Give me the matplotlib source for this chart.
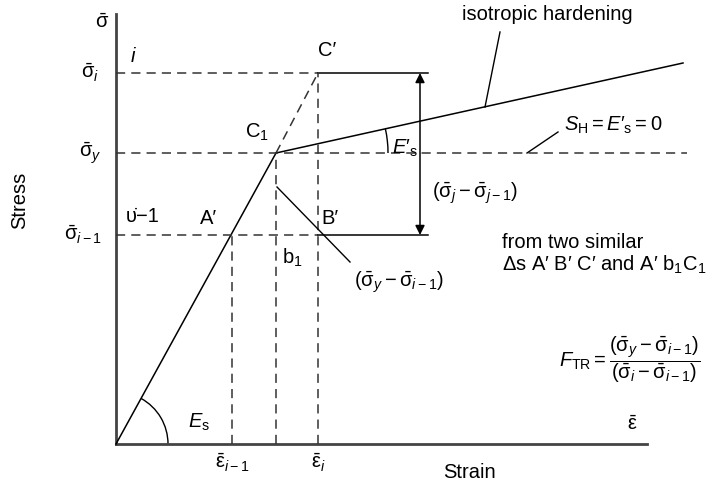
import numpy as np
import matplotlib.pyplot as plt
from matplotlib.patches import Arc

plt.rcParams['font.family'] = ['Liberation Sans', 'DejaVu Sans']
plt.rcParams['mathtext.fontset'] = 'custom'
plt.rcParams['mathtext.rm'] = 'Liberation Sans'
plt.rcParams['mathtext.it'] = 'Liberation Sans:italic'
plt.rcParams['mathtext.sf'] = 'Liberation Sans'

# schematic levels (arbitrary units, origin at axis corner)
eps_im1, eps_c1, eps_i = 116, 160, 202
sig_im1, sig_y, sig_i = 209, 291, 371
eps_max, sig_max = 531, 430
hard_end = (567, 381)          # end of isotropic hardening line
dash_end = 571                 # end of S_H = 0 dashed line
arrow_x, solid_end = 304, 312  # double arrow and solid level lines
b_line = [(161, 257), (234, 182)]
iso_leader = [(384, 412), (369, 337)]
sh_leader = [(442, 312), (411, 291)]

fig = plt.figure(figsize=(7.22, 4.92), dpi=100)
ax = fig.add_axes([0, 0, 1, 1])
ax.set_xlim(-116, 606)
ax.set_ylim(-48, 444)
ax.axis('off')

k = dict(color='black', lw=1.1)
d = dict(color='#333333', lw=1.1, dashes=(6, 4))

# axes
ax.plot([0, 0], [0, sig_max], color='#444444', lw=2)
ax.plot([0, eps_max], [0, 0], color='#444444', lw=2)

# elastic line and dashed continuation
ax.plot([0, eps_c1], [0, sig_y], **k)
ax.plot([eps_c1, eps_i], [sig_y, sig_i], **d)
# hardening
ax.plot([eps_c1, hard_end[0]], [sig_y, hard_end[1]], **k)

# horizontal levels
ax.plot([0, eps_i], [sig_i, sig_i], **d)
ax.plot([eps_i, solid_end], [sig_i, sig_i], **k)
ax.plot([0, dash_end], [sig_y, sig_y], **d)
ax.plot([0, eps_i], [sig_im1, sig_im1], **d)
ax.plot([eps_i, solid_end], [sig_im1, sig_im1], **k)

# vertical levels
ax.plot([eps_im1, eps_im1], [0, sig_im1], **d)
ax.plot([eps_c1, eps_c1], [0, sig_y], **d)
ax.plot([eps_i, eps_i], [0, sig_i], **d)

# leaders
for pts in (b_line, iso_leader, sh_leader):
    xs, ys = zip(*pts)
    ax.plot(xs, ys, color='black', lw=1)

ax.annotate('', xy=(arrow_x, sig_i), xytext=(arrow_x, sig_im1),
            arrowprops=dict(arrowstyle='<|-|>', color='black', lw=1.1,
                            mutation_scale=14, shrinkA=0, shrinkB=0))

# angle arcs
a_el = np.degrees(np.arctan2(sig_y, eps_c1))
a_h = np.degrees(np.arctan2(hard_end[1] - sig_y, hard_end[0] - eps_c1))
ax.add_patch(Arc((0, 0), 104, 104, theta1=0, theta2=a_el, color='black', lw=1))
ax.add_patch(Arc((eps_c1, sig_y), 224, 224, theta1=0, theta2=a_h, color='black', lw=1))

fs = 14.5
S = r'\bar{\mathrm{σ}}'
E = r'\bar{\mathrm{ε}}'
ax.text(-14, 422, '$' + S + '$', fontsize=fs, ha='center', va='center')
ax.text(-26, sig_i, '$' + S + '_i$', fontsize=fs, ha='center', va='center')
ax.text(-26, sig_y, '$' + S + '_y$', fontsize=fs, ha='center', va='center')
ax.text(-33, sig_im1, '$' + S + '_{i-1}$', fontsize=fs, ha='center', va='center')
ax.text(17, 387, r'$i$', fontsize=fs, ha='center', va='center')
ax.text(10, 228, 'υ\u0307\u22121', fontsize=fs, ha='left', va='center')
ax.text(-96, 244, 'Stress', fontsize=fs, rotation=90, ha='center', va='center')
ax.text(353, -28, 'Strain', fontsize=fs, ha='center', va='center')
ax.text(516, 20, '$' + E + '$', fontsize=fs, ha='center', va='center')
ax.text(eps_im1, -19, '$' + E + '_{i-1}$', fontsize=fs, ha='center', va='center')
ax.text(eps_i, -19, '$' + E + '_i$', fontsize=fs, ha='center', va='center')
ax.text(84, 225, 'A\u2032', fontsize=fs, ha='left', va='center')
ax.text(205, 225, 'B\u2032', fontsize=fs, ha='left', va='center')
ax.text(129, 312, r'C$_1$', fontsize=fs, ha='left', va='center')
ax.text(202, 394, 'C\u2032', fontsize=fs, ha='left', va='center')
ax.text(166, 186, r'b$_1$', fontsize=fs, ha='left', va='center')
ax.text(72, 22, r'$E_\mathrm{s}$', fontsize=fs, ha='left', va='center')
ax.text(276, 296, r'$E′_\mathrm{s}$', fontsize=fs, ha='left', va='center')
ax.text(431, 429, 'isotropic hardening', fontsize=fs, ha='center', va='center')
ax.text(448, 319, r'$S_\mathrm{H} = E′_\mathrm{s} = 0$', fontsize=fs, ha='left', va='center')
ax.text(316, 251, '$(' + S + '_j - ' + S + '_{j-1})$', fontsize=fs, ha='left', va='center')
ax.text(238, 162, '$(' + S + '_y - ' + S + '_{i-1})$', fontsize=fs, ha='left', va='center')
ax.text(386, 201, 'from two similar', fontsize=fs, ha='left', va='center')
ax.text(386, 179, 'Δs A′ B′ C′ and A′ b$_1$C$_1$', fontsize=fs, ha='left', va='center')
ax.text(443, 84, r'$F_\mathrm{TR} = \dfrac{(' + S + '_y - ' + S + '_{i-1})}{(' + S + '_i - ' + S + '_{i-1})}$',
        fontsize=fs, ha='left', va='center')

fig.savefig('out.png', dpi=100)
